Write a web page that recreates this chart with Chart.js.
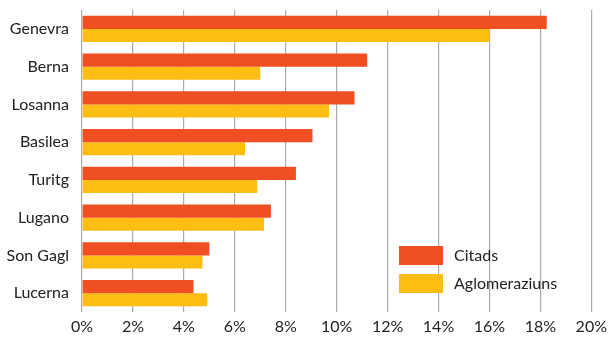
<!DOCTYPE html>
<html>
<head>
<meta charset="utf-8">
<script src="https://cdn.jsdelivr.net/npm/chart.js@4/dist/chart.umd.min.js"></script>
<style>
  html, body { margin: 0; padding: 0; background: #ffffff; }
  #wrap { width: 612px; height: 337px; position: relative; }
</style>
</head>
<body>
<div id="wrap"><canvas id="c" width="612" height="337"></canvas></div>
<script>
// Share of population by city (core city vs. agglomeration), in percent
const cities = ["Genevra", "Berna", "Losanna", "Basilea", "Turitg", "Lugano", "Son Gagl", "Lucerna"];
const citads = [18.25, 11.2, 10.7, 9.05, 8.4, 7.42, 5.0, 4.38];
const aglomeraziuns = [16.0, 7.0, 9.7, 6.4, 6.88, 7.15, 4.73, 4.92];
const seriesNames = ["Citads", "Aglomeraziuns"];
const seriesColors = ["#F04F23", "#FDBD13"];
const xTickStep = 2;
const xMax = 20;

const FONT = "Lato, 'Liberation Sans', sans-serif";
const FONT_SIZE = 16;
const TEXT = "#222222";

// Legend drawn inside the plot, lower right
const insideLegend = {
  id: "insideLegend",
  afterDraw(chart) {
    const ctx = chart.ctx;
    ctx.save();
    ctx.font = FONT_SIZE + "px " + FONT;
    ctx.textBaseline = "middle";
    ctx.textAlign = "left";
    chart.data.datasets.forEach((ds, i) => {
      const y = 246 + i * 28;
      ctx.fillStyle = ds.backgroundColor;
      ctx.fillRect(399, y, 44, 19);
      ctx.fillStyle = TEXT;
      ctx.fillText(ds.label, 454, y + 10);
    });
    ctx.restore();
  }
};

new Chart(document.getElementById("c"), {
  type: "bar",
  data: {
    labels: cities,
    datasets: [
      { label: seriesNames[0], data: citads, backgroundColor: seriesColors[0] },
      { label: seriesNames[1], data: aglomeraziuns, backgroundColor: seriesColors[1] }
    ]
  },
  options: {
    indexAxis: "y",
    responsive: false,
    animation: false,
    devicePixelRatio: 1,
    layout: { padding: { top: 10, right: 18, left: 0, bottom: 0 } },
    datasets: { bar: { categoryPercentage: 0.69, barPercentage: 1.0, borderWidth: 0 } },
    plugins: { legend: { display: false }, tooltip: { enabled: false } },
    scales: {
      x: {
        min: 0,
        max: xMax,
        ticks: {
          stepSize: xTickStep,
          padding: 5,
          color: TEXT,
          font: { family: FONT, size: FONT_SIZE },
          callback: v => v + "%"
        },
        grid: { color: "#ababab", lineWidth: 1.2, drawTicks: false },
        border: { display: false },
        afterFit(scale) { scale.height = 25; }
      },
      y: {
        ticks: {
          padding: 13,
          color: TEXT,
          font: { family: FONT, size: FONT_SIZE }
        },
        grid: { display: false, drawTicks: false },
        border: { display: false },
        afterFit(scale) {
          scale.width = 82;
          scale.paddingTop = 0;
          scale.paddingBottom = 0;
        }
      }
    }
  },
  plugins: [insideLegend]
});
</script>
</body>
</html>
